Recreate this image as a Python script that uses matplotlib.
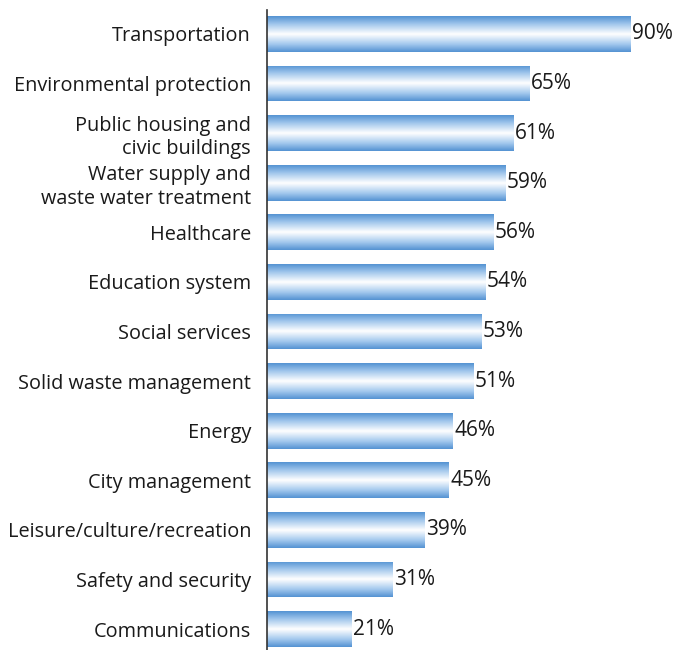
import matplotlib
matplotlib.use("Agg")
import matplotlib.pyplot as plt
import numpy as np
from matplotlib.colors import LinearSegmentedColormap

categories = ["Transportation", "Environmental protection", "Public housing and\ncivic buildings",
              "Water supply and\nwaste water treatment", "Healthcare", "Education system",
              "Social services", "Solid waste management", "Energy", "City management",
              "Leisure/culture/recreation", "Safety and security", "Communications"]
values = [90, 65, 61, 59, 56, 54, 53, 51, 46, 45, 39, 31, 21]

plt.rcParams['font.family'] = ['Open Sans', 'DejaVu Sans']

fig = plt.figure(figsize=(6.81, 6.5), dpi=100)
ax = fig.add_axes([267/681, 0, 1 - 267/681, 640/650])

cmap = LinearSegmentedColormap.from_list("g", [(0.0, "#5392d2"), (0.22, "#a0c6ec"), (0.5, "#ffffff"),
                                             (0.78, "#a4c9ee"), (1.0, "#5392d2")])
grad = np.linspace(0, 1, 256).reshape(-1, 1)
h = 0.72
ypos = np.arange(len(categories))
bars = ax.barh(ypos, values, height=h, color="none", edgecolor="none")
for b, y, v in zip(bars, ypos, values):
    im = ax.imshow(grad, extent=[0, v, y + h/2, y - h/2], aspect="auto", cmap=cmap,
                   origin="upper", interpolation="bicubic", zorder=2)
    im.set_clip_path(b)
    ax.text(v + 0.35, y, f"{v}%", va="center", ha="left", fontsize=15, color="#1a1a1a")

ax.set_xlim(0, 102.4)
ax.set_ylim(12.42, -0.48)
ax.set_yticks(ypos)
ax.set_yticklabels(categories, fontsize=14.3, color="#1a1a1a", linespacing=1.25)
ax.tick_params(axis="y", length=0, pad=11.5)
ax.set_xticks([])
for s in ["top", "right", "bottom"]:
    ax.spines[s].set_visible(False)
ax.spines["left"].set_color("#333333")
ax.spines["left"].set_linewidth(1.2)
fig.savefig("out.png", dpi=100)
